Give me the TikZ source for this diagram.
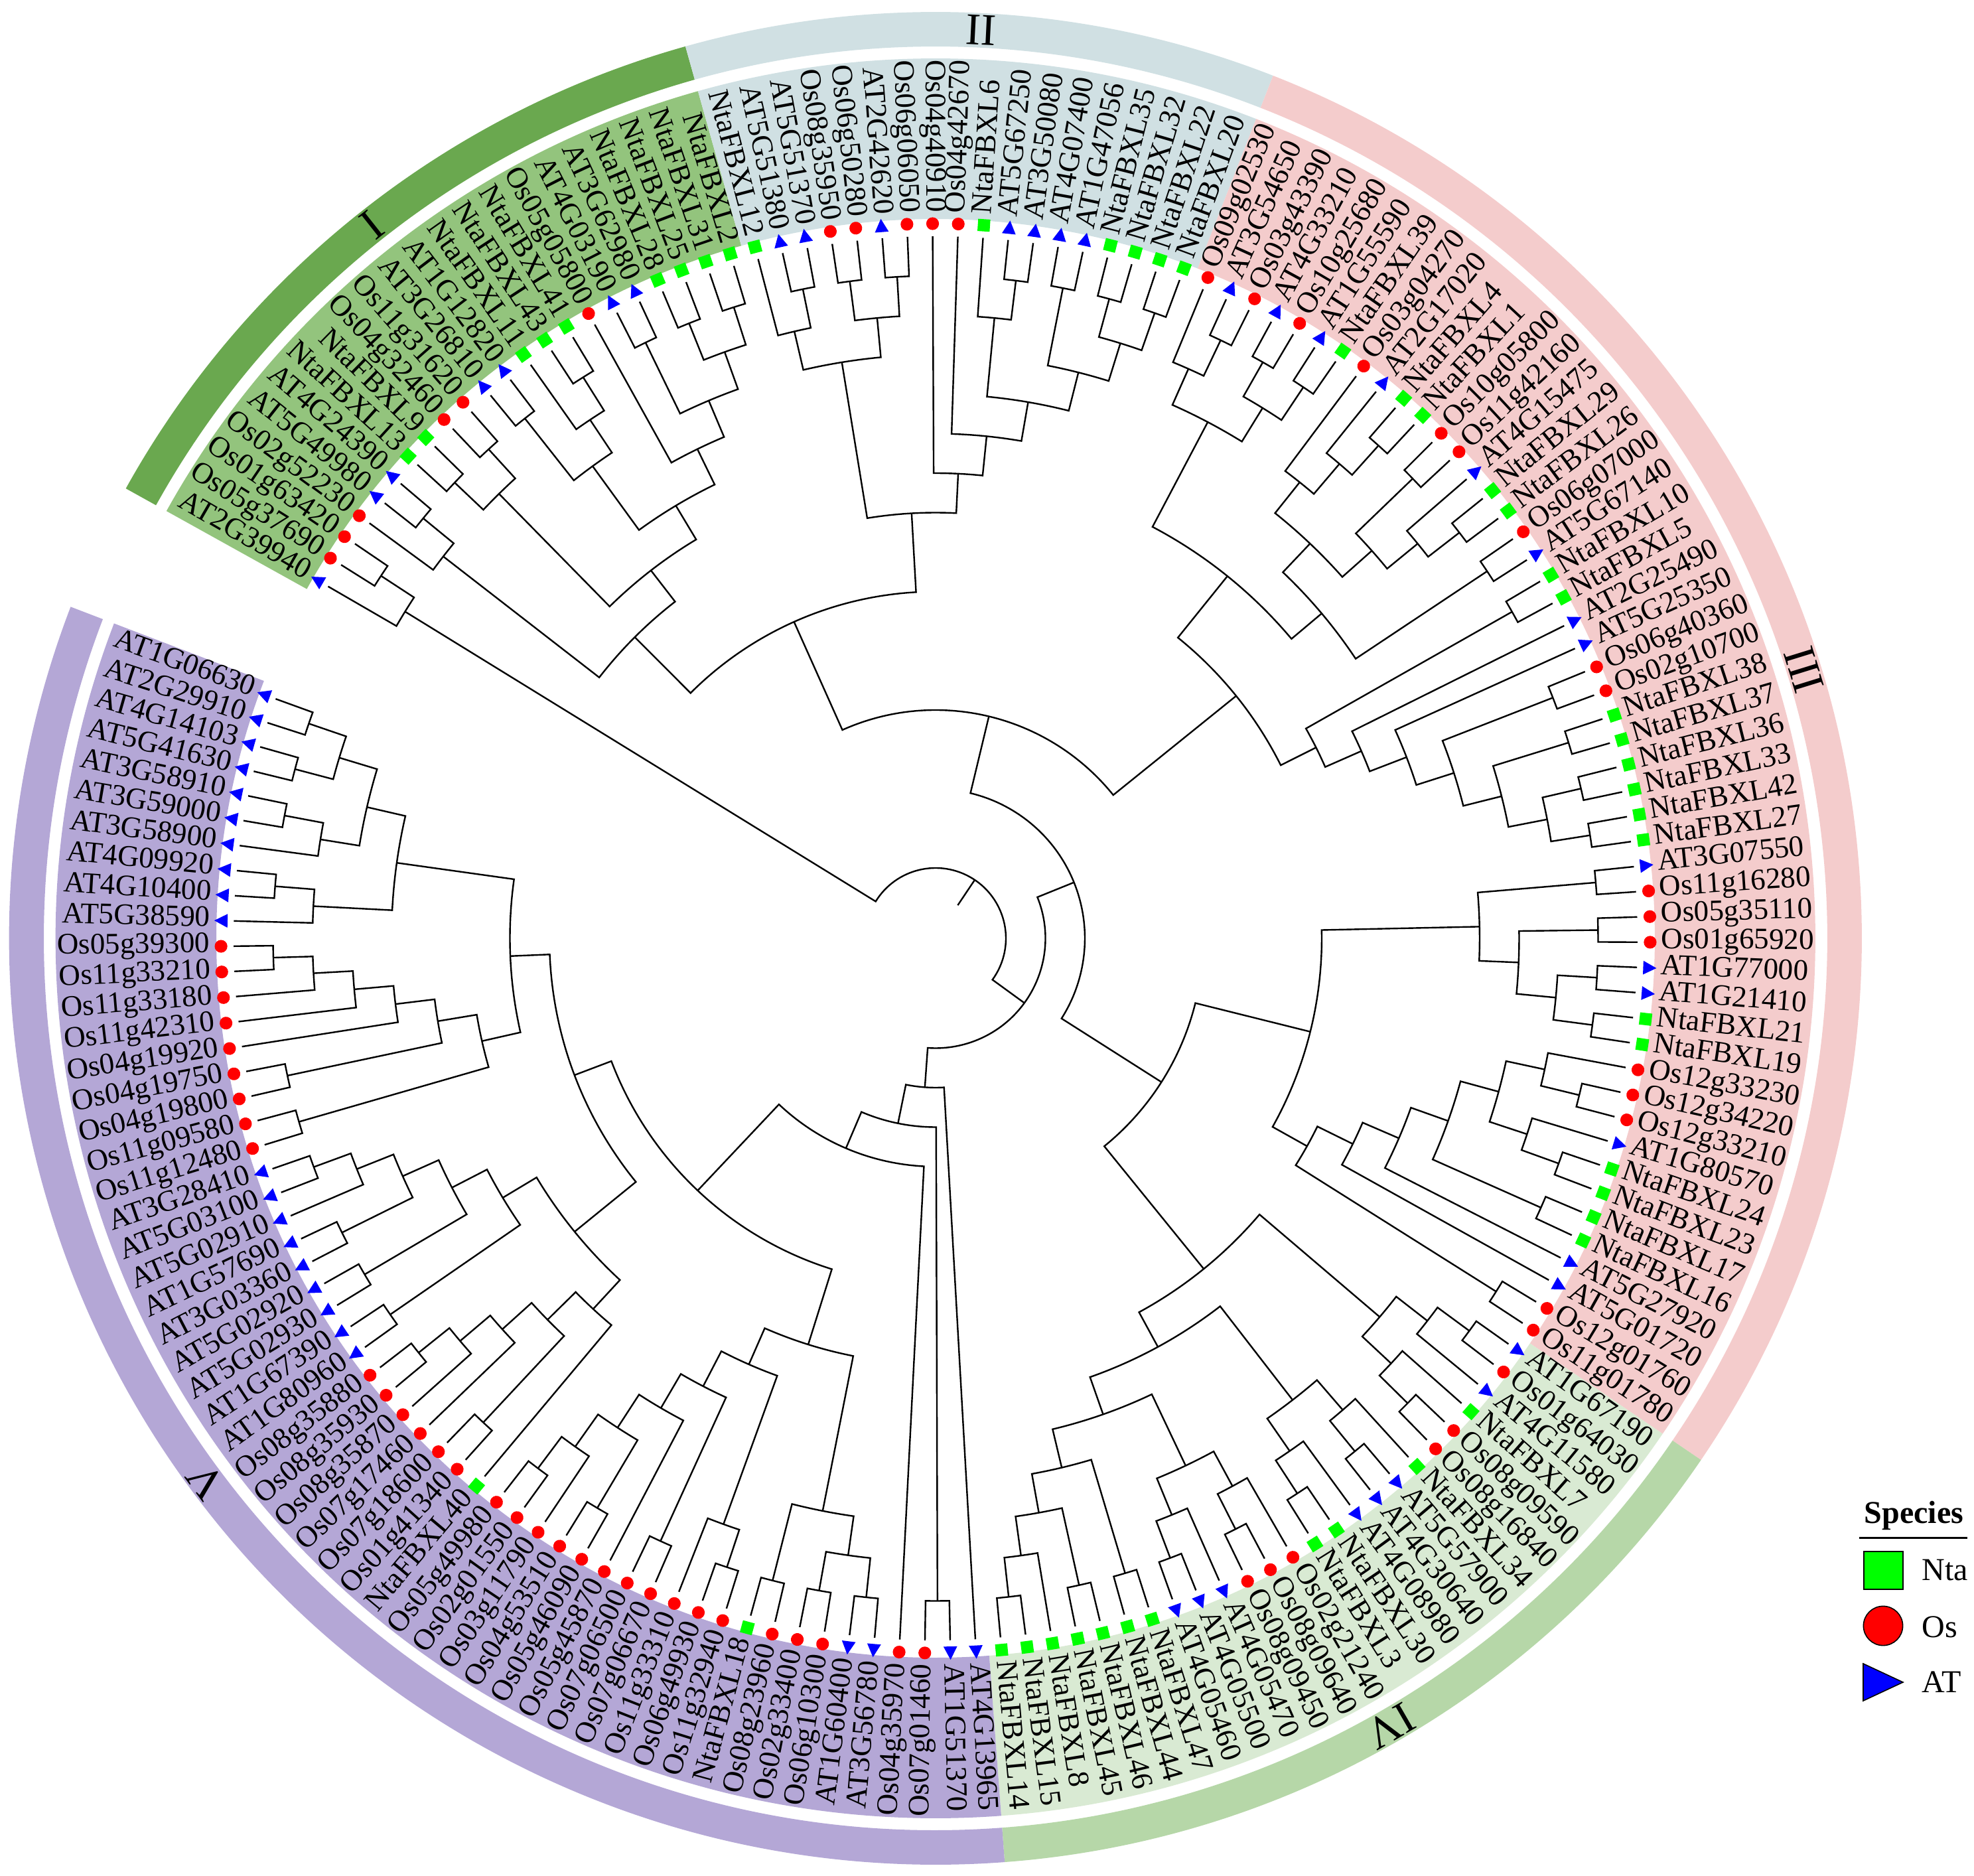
\documentclass[tikz,border=0pt]{standalone}
\usepackage{fontspec}
\setmainfont{Liberation Serif}
\definecolor{ntac}{RGB}{0,255,0}
\definecolor{osc}{RGB}{255,0,0}
\definecolor{atc}{RGB}{0,0,255}
\definecolor{bandI}{HTML}{6AA84F}
\definecolor{bgI}{HTML}{93C47D}
\definecolor{bandII}{HTML}{D0E0E3}
\definecolor{bandIII}{HTML}{F4CCCC}
\definecolor{bandIV}{HTML}{B6D7A8}
\definecolor{bgIV}{HTML}{D9EAD3}
\definecolor{bandV}{HTML}{B4A7D6}
\newcommand\Rz{1058}
\newcommand\Dh{59.5}
\newcommand\PX{0.25}
\newcommand\Astart{149.92}
\newcommand\Astep{2.058}
\newcommand\Rm{269.25}
\newcommand\Rl{273.25}
\tikzset{
  branch/.style={line width=0.6pt,black},
  lab/.style={font=\fontsize{11.25}{13}\selectfont,inner sep=0pt},
  numlab/.style={font=\fontsize{17}{19}\selectfont,inner sep=0pt},
  legtext/.style={font=\fontsize{12}{14}\selectfont,inner sep=0pt}
}
\newcommand\marker[2]{%
  \begin{scope}[shift={(#1:\Rm pt)},rotate=#1]
    \if#2N\fill[ntac] (-2.3pt,-2.3pt) rectangle (2.3pt,2.3pt);\fi
    \if#2O\fill[osc] (0,0) circle[radius=2.4pt];\fi
    \if#2A\fill[atc] (-2.4pt,-2.6pt) -- (2.6pt,0pt) -- (-2.4pt,2.6pt) -- cycle;\fi
  \end{scope}}
\newcommand\leaf[3]{%
  \pgfmathsetmacro\curang{\Astart-\Astep*(#1)}%
  \expandafter\xdef\csname ta@#1\endcsname{\curang}%
  \expandafter\xdef\csname th@#1\endcsname{0}%
  \pgfmathsetmacro\lb{mod(\curang+540,360)-180}%
  \pgfmathtruncatemacro\side{and(\lb>-90,\lb<90)}%
  \marker{\lb}{#2}%
  \ifnum\side=1
    \node[lab,anchor=mid west,rotate=\lb] (L#1) at (\lb:\Rl pt) {#3};
  \else
    \pgfmathsetmacro\lr{\lb+180}%
    \node[lab,anchor=mid east,rotate=\lr] (L#1) at (\lb:\Rl pt) {#3};
  \fi}
% \cl{name}{child1}{child2}: node height = max(child heights)+1
\newcommand\cl[3]{%
  \edef\aA{\csname ta@#2\endcsname}%
  \edef\aB{\csname ta@#3\endcsname}%
  \edef\hA{\csname th@#2\endcsname}%
  \edef\hB{\csname th@#3\endcsname}%
  \pgfmathsetmacro\hN{max(\hA,\hB)+1}%
  \clbody{#1}}
% \ch{name}{child1}{child2}{height}: node at a given height
\newcommand\ch[4]{%
  \edef\aA{\csname ta@#2\endcsname}%
  \edef\aB{\csname ta@#3\endcsname}%
  \edef\hA{\csname th@#2\endcsname}%
  \edef\hB{\csname th@#3\endcsname}%
  \def\hN{#4}%
  \clbody{#1}}
\newcommand\clbody[1]{%
  \pgfmathsetmacro\aN{(\aA+\aB)/2}%
  \pgfmathsetmacro\rN{(\Rz-\hN*\Dh)*\PX}%
  \pgfmathsetmacro\rA{(\Rz-\hA*\Dh)*\PX}%
  \pgfmathsetmacro\rB{(\Rz-\hB*\Dh)*\PX}%
  \draw[branch] (\aA:\rA pt) -- (\aA:\rN pt) arc[start angle=\aA,end angle=\aB,radius=\rN pt] -- (\aB:\rB pt);
  \expandafter\xdef\csname ta@#1\endcsname{\aN}%
  \expandafter\xdef\csname th@#1\endcsname{\hN}}
\newcommand\sector[5]{%
  \fill[#1] (#2:#4pt) arc[start angle=#2,end angle=#3,radius=#4pt] -- (#3:#5pt) arc[start angle=#3,end angle=#2,radius=#5pt] -- cycle;}
\begin{document}
\begin{tikzpicture}
\useasboundingbox (-352.5pt,-353pt) rectangle (391.25pt,353.5pt);
% label backgrounds
\sector{bgI}{150.95}{105.67}{271}{331.5}
\sector{bandII}{105.67}{68.63}{271}{331.5}
\sector{bandIII}{68.63}{-34.27}{271}{331.5}
\sector{bgIV}{-34.27}{-85.72}{271}{331.5}
\sector{bandV}{-85.72}{-200.97}{271}{331.5}
% outer bands
\sector{bandI}{150.95}{105.67}{336}{349}
\sector{bandII}{105.67}{68.63}{336}{349}
\sector{bandIII}{68.63}{-34.27}{336}{349}
\sector{bandIV}{-34.27}{-85.72}{336}{349}
\sector{bandV}{-85.72}{-200.97}{336}{349}
\node[numlab,rotate=38.31] (nI) at (128.31:342.5pt) {I};
\node[numlab,rotate=-2.85] (nII) at (87.15:342.5pt) {II};
\node[numlab,rotate=-72.82] (nIII) at (17.18:342.5pt) {III};
\node[numlab,rotate=-150] (nIV) at (-60:342.5pt) {IV};
\node[numlab,rotate=-233.35] (nV) at (-143.35:342.5pt) {V};
% leaves
\leaf{0}{A}{AT2G39940}\leaf{1}{O}{Os05g37690}\leaf{2}{O}{Os01g63420}\leaf{3}{O}{Os02g52230}
\leaf{4}{A}{AT5G49980}\leaf{5}{A}{AT4G24390}\leaf{6}{N}{NtaFBXL13}\leaf{7}{N}{NtaFBXL9}
\leaf{8}{O}{Os04g32460}\leaf{9}{O}{Os11g31620}\leaf{10}{A}{AT3G26810}\leaf{11}{A}{AT1G12820}
\leaf{12}{N}{NtaFBXL11}\leaf{13}{N}{NtaFBXL43}\leaf{14}{N}{NtaFBXL41}\leaf{15}{O}{Os05g05800}
\leaf{16}{A}{AT4G03190}\leaf{17}{A}{AT3G62980}\leaf{18}{N}{NtaFBXL28}\leaf{19}{N}{NtaFBXL25}
\leaf{20}{N}{NtaFBXL31}\leaf{21}{N}{NtaFBXL2}
\leaf{22}{N}{NtaFBXL12}\leaf{23}{A}{AT5G51380}\leaf{24}{A}{AT5G51370}\leaf{25}{O}{Os08g35950}
\leaf{26}{O}{Os06g50280}\leaf{27}{A}{AT2G42620}\leaf{28}{O}{Os06g06050}\leaf{29}{O}{Os04g40910}
\leaf{30}{O}{Os04g42670}\leaf{31}{N}{NtaFBXL6}\leaf{32}{A}{AT5G67250}\leaf{33}{A}{AT3G50080}
\leaf{34}{A}{AT4G07400}\leaf{35}{A}{AT1G47056}\leaf{36}{N}{NtaFBXL35}\leaf{37}{N}{NtaFBXL32}
\leaf{38}{N}{NtaFBXL22}\leaf{39}{N}{NtaFBXL20}
\leaf{40}{O}{Os09g02530}\leaf{41}{A}{AT3G54650}\leaf{42}{O}{Os03g43390}\leaf{43}{A}{AT4G33210}
\leaf{44}{O}{Os10g25680}\leaf{45}{A}{AT1G55590}\leaf{46}{N}{NtaFBXL39}\leaf{47}{O}{Os03g04270}
\leaf{48}{A}{AT2G17020}\leaf{49}{N}{NtaFBXL4}\leaf{50}{N}{NtaFBXL1}\leaf{51}{O}{Os10g05800}
\leaf{52}{O}{Os11g42160}\leaf{53}{A}{AT4G15475}\leaf{54}{N}{NtaFBXL29}\leaf{55}{N}{NtaFBXL26}
\leaf{56}{O}{Os06g07000}\leaf{57}{A}{AT5G67140}\leaf{58}{N}{NtaFBXL10}\leaf{59}{N}{NtaFBXL5}
\leaf{60}{A}{AT2G25490}\leaf{61}{A}{AT5G25350}\leaf{62}{O}{Os06g40360}\leaf{63}{O}{Os02g10700}
\leaf{64}{N}{NtaFBXL38}\leaf{65}{N}{NtaFBXL37}\leaf{66}{N}{NtaFBXL36}\leaf{67}{N}{NtaFBXL33}
\leaf{68}{N}{NtaFBXL42}\leaf{69}{N}{NtaFBXL27}\leaf{70}{A}{AT3G07550}\leaf{71}{O}{Os11g16280}
\leaf{72}{O}{Os05g35110}\leaf{73}{O}{Os01g65920}\leaf{74}{A}{AT1G77000}\leaf{75}{A}{AT1G21410}
\leaf{76}{N}{NtaFBXL21}\leaf{77}{N}{NtaFBXL19}\leaf{78}{O}{Os12g33230}\leaf{79}{O}{Os12g34220}
\leaf{80}{O}{Os12g33210}\leaf{81}{A}{AT1G80570}\leaf{82}{N}{NtaFBXL24}\leaf{83}{N}{NtaFBXL23}
\leaf{84}{N}{NtaFBXL17}\leaf{85}{N}{NtaFBXL16}\leaf{86}{A}{AT5G27920}\leaf{87}{A}{AT5G01720}
\leaf{88}{O}{Os12g01760}\leaf{89}{O}{Os11g01780}
\leaf{90}{A}{AT1G67190}\leaf{91}{O}{Os01g64030}\leaf{92}{A}{AT4G11580}\leaf{93}{N}{NtaFBXL7}
\leaf{94}{O}{Os08g09590}\leaf{95}{O}{Os08g16840}\leaf{96}{N}{NtaFBXL34}\leaf{97}{A}{AT5G57900}
\leaf{98}{A}{AT4G30640}\leaf{99}{A}{AT4G08980}\leaf{100}{N}{NtaFBXL30}\leaf{101}{N}{NtaFBXL3}
\leaf{102}{O}{Os02g21240}\leaf{103}{O}{Os08g09640}\leaf{104}{O}{Os08g09450}\leaf{105}{A}{AT4G05470}
\leaf{106}{A}{AT4G05500}\leaf{107}{A}{AT4G05460}\leaf{108}{N}{NtaFBXL47}\leaf{109}{N}{NtaFBXL44}
\leaf{110}{N}{NtaFBXL46}\leaf{111}{N}{NtaFBXL45}\leaf{112}{N}{NtaFBXL8}\leaf{113}{N}{NtaFBXL15}
\leaf{114}{N}{NtaFBXL14}
\leaf{115}{A}{AT4G13965}\leaf{116}{A}{AT1G51370}\leaf{117}{O}{Os07g01460}\leaf{118}{O}{Os04g35970}
\leaf{119}{A}{AT3G56780}\leaf{120}{A}{AT1G60400}\leaf{121}{O}{Os06g10300}\leaf{122}{O}{Os02g33400}
\leaf{123}{O}{Os08g23960}\leaf{124}{N}{NtaFBXL18}\leaf{125}{O}{Os11g32940}\leaf{126}{O}{Os06g49930}
\leaf{127}{O}{Os11g33310}\leaf{128}{O}{Os07g06670}\leaf{129}{O}{Os07g06500}\leaf{130}{O}{Os05g45870}
\leaf{131}{O}{Os05g46090}\leaf{132}{O}{Os04g53510}\leaf{133}{O}{Os03g11790}\leaf{134}{O}{Os02g01550}
\leaf{135}{O}{Os05g49980}\leaf{136}{N}{NtaFBXL40}\leaf{137}{O}{Os01g41340}\leaf{138}{O}{Os07g18600}
\leaf{139}{O}{Os07g17460}\leaf{140}{O}{Os08g35870}\leaf{141}{O}{Os08g35930}\leaf{142}{O}{Os08g35880}
\leaf{143}{A}{AT1G80960}\leaf{144}{A}{AT1G67390}\leaf{145}{A}{AT5G02930}\leaf{146}{A}{AT5G02920}
\leaf{147}{A}{AT3G03360}\leaf{148}{A}{AT1G57690}\leaf{149}{A}{AT5G02910}\leaf{150}{A}{AT5G03100}
\leaf{151}{A}{AT3G28410}\leaf{152}{O}{Os11g12480}\leaf{153}{O}{Os11g09580}\leaf{154}{O}{Os04g19800}
\leaf{155}{O}{Os04g19750}\leaf{156}{O}{Os04g19920}\leaf{157}{O}{Os11g42310}\leaf{158}{O}{Os11g33180}
\leaf{159}{O}{Os11g33210}\leaf{160}{O}{Os05g39300}\leaf{161}{A}{AT5G38590}\leaf{162}{A}{AT4G10400}
\leaf{163}{A}{AT4G09920}\leaf{164}{A}{AT3G58900}\leaf{165}{A}{AT3G59000}\leaf{166}{A}{AT3G58910}
\leaf{167}{A}{AT5G41630}\leaf{168}{A}{AT4G14103}\leaf{169}{A}{AT2G29910}\leaf{170}{A}{AT1G06630}
% tree: group I
\cl{a12}{1}{2}\cl{aA}{0}{a12}\cl{a45}{4}{5}\cl{aB}{3}{a45}
\cl{a67}{6}{7}\cl{a89}{8}{9}\cl{aCD}{a67}{a89}
\cl{a1011}{10}{11}\cl{a1314}{13}{14}\cl{aE2}{12}{a1314}\cl{aE}{a1011}{aE2}
\cl{a1617}{16}{17}\cl{a1819}{18}{19}\cl{a2021}{20}{21}\cl{aF3}{a1819}{a2021}\cl{aF2}{a1617}{aF3}\cl{aF}{15}{aF2}
\cl{aEF}{aE}{aF}\cl{aCDEF}{aCD}{aEF}\cl{GI}{aB}{aCDEF}
% group II
\cl{b2324}{23}{24}\cl{bA}{22}{b2324}\cl{b2526}{25}{26}\cl{b2728}{27}{28}\cl{bB}{b2526}{b2728}\cl{bAB}{bA}{bB}
\cl{b3233}{32}{33}\cl{bC1}{31}{b3233}
\cl{b3435}{34}{35}\cl{b3637}{36}{37}\cl{b3839}{38}{39}\cl{bC2a}{b3637}{b3839}\cl{bC2}{b3435}{bC2a}
\cl{bC3}{bC1}{bC2}\cl{bC}{30}{bC3}\cl{bD}{29}{bC}\cl{GII}{bAB}{bD}
% group III
\cl{c4142}{41}{42}\cl{cA}{40}{c4142}\cl{c4344}{43}{44}\cl{c4546}{45}{46}\cl{cB}{c4344}{c4546}\cl{cAB}{cA}{cB}
\cl{c4950}{49}{50}\cl{cC2}{48}{c4950}\cl{cC}{47}{cC2}
\cl{c5152}{51}{52}\cl{c5455}{54}{55}\cl{cD2}{53}{c5455}\cl{cD}{c5152}{cD2}\cl{cCD}{cC}{cD}
\cl{c5657}{56}{57}\cl{cCDE}{cCD}{c5657}\cl{cTop}{cAB}{cCDE}
\cl{c5859}{58}{59}\cl{c6263}{62}{63}\cl{c6465}{64}{65}\cl{c6667}{66}{67}\cl{c6869}{68}{69}
\cl{cN2}{c6667}{c6869}\cl{cN3}{c6465}{cN2}\cl{cN4}{c6263}{cN3}\cl{cN5}{61}{cN4}\cl{cN6}{60}{cN5}\cl{cN7}{c5859}{cN6}
\cl{cUp}{cTop}{cN7}
\cl{c7071}{70}{71}\cl{c7273}{72}{73}\cl{c7475}{74}{75}\cl{c7677}{76}{77}\cl{cQ2}{c7475}{c7677}\cl{cQ3}{c7273}{cQ2}\cl{cQ4}{c7071}{cQ3}
\cl{c7980}{79}{80}\cl{cR2}{78}{c7980}\cl{c8283}{82}{83}\cl{cS2}{81}{c8283}\cl{cR3}{cR2}{cS2}
\cl{c8485}{84}{85}\cl{cR4}{cR3}{c8485}\cl{cR5}{cR4}{86}\cl{cR6}{cR5}{87}\cl{c8889}{88}{89}\cl{cR7}{cR6}{c8889}
\cl{cLow}{cQ4}{cR7}
% group IV
\cl{d9091}{90}{91}\cl{dA}{d9091}{92}\cl{d9495}{94}{95}\cl{dB}{93}{d9495}\cl{dAB}{dA}{dB}
\cl{d9798}{97}{98}\cl{dC}{96}{d9798}\cl{d100}{100}{101}\cl{dD}{99}{d100}\cl{dCD}{dC}{dD}
\cl{d103}{103}{104}\cl{dE}{102}{d103}\cl{d106}{106}{107}\cl{dF}{105}{d106}\cl{dEF}{dE}{dF}
\cl{d108}{108}{109}\cl{d110}{110}{111}\cl{d113}{113}{114}\cl{dG2}{112}{d113}\cl{dG3}{d110}{dG2}\cl{dG4}{d108}{dG3}
\cl{dEFG}{dEF}{dG4}\cl{dCDEFG}{dCD}{dEFG}\cl{GIV}{dAB}{dCDEFG}
% group V
\cl{e116}{116}{117}
\cl{e119}{119}{120}\cl{e121}{121}{122}\cl{eB}{e119}{e121}\cl{e123}{123}{124}\cl{eB2}{eB}{e123}
\cl{e125}{125}{126}\cl{eC}{e125}{127}\cl{e128}{128}{129}
\cl{e131}{131}{132}\cl{e134}{134}{135}\cl{eD2}{133}{e134}\cl{eD3}{e131}{eD2}\cl{eD4}{130}{eD3}\cl{eD5}{e128}{eD4}
\cl{eE}{eC}{eD5}\cl{eF}{eB2}{eE}
\cl{e141}{141}{142}\cl{eP}{140}{e141}\cl{eP2}{139}{eP}\cl{e137}{137}{138}\cl{eP3}{e137}{eP2}\cl{eP4}{136}{eP3}
\cl{e143}{143}{144}\cl{e145}{145}{146}\cl{e147}{147}{148}\cl{e150}{150}{151}\cl{eQ2}{149}{e150}\cl{eQ3}{e147}{eQ2}\cl{eQ4}{e145}{eQ3}\cl{eQ5}{e143}{eQ4}
\cl{ePQ}{eP4}{eQ5}
\cl{e152}{152}{153}\cl{e154}{154}{155}\cl{e159}{159}{160}\cl{eR2}{158}{e159}\cl{eR3}{157}{eR2}\cl{eR4}{156}{eR3}\cl{eR5}{e154}{eR4}\cl{eR6}{e152}{eR5}
\cl{e162}{162}{163}\cl{eT2}{161}{e162}\cl{e165}{165}{166}\cl{eU2}{164}{e165}\cl{e167}{167}{168}\cl{e169}{169}{170}\cl{eV2}{e167}{e169}\cl{eU3}{eU2}{eV2}\cl{eT4}{eT2}{eU3}
\cl{eRT}{eR6}{eT4}\cl{eUp}{ePQ}{eRT}\cl{eUF}{eF}{eUp}
% deep structure
\ch{K10}{GI}{GII}{9}
\ch{Kup}{K10}{cUp}{12}
\ch{C1}{cLow}{GIV}{11}
\ch{K14a}{Kup}{C1}{14}
\ch{K12}{118}{eUF}{12}
\ch{K13}{e116}{K12}{13}
\ch{K14b}{115}{K13}{14}
\ch{K15}{K14a}{K14b}{15}
\ch{Root}{aA}{K15}{16}
\pgfmathsetmacro\rootang{\csname ta@Root\endcsname}
\draw[branch] (\rootang:15pt) -- (\rootang:{(\Rz-16*\Dh)*\PX pt});
% legend
\node[legtext,font=\fontsize{12}{14}\selectfont\bfseries,anchor=base west] (lgT) at (349.75pt,-220.25pt) {Species};
\draw[line width=0.75pt] (348pt,-225.75pt) -- (388.75pt,-225.75pt);
\draw[fill=ntac,line width=0.4pt] (349.75pt,-231pt) rectangle (364.5pt,-245.25pt);
\node[legtext,anchor=west] (lgN) at (371.5pt,-238.1pt) {Nta};
\draw[fill=osc,line width=0.4pt] (357pt,-259pt) circle[radius=7.4pt];
\node[legtext,anchor=west] (lgO) at (371.5pt,-259.5pt) {Os};
\draw[fill=atc,line width=0.4pt] (349.5pt,-273.25pt) -- (364.5pt,-280.25pt) -- (349.5pt,-287.25pt) -- cycle;
\node[legtext,anchor=west] (lgA) at (371.5pt,-280.25pt) {AT};
\end{tikzpicture}
\end{document}
